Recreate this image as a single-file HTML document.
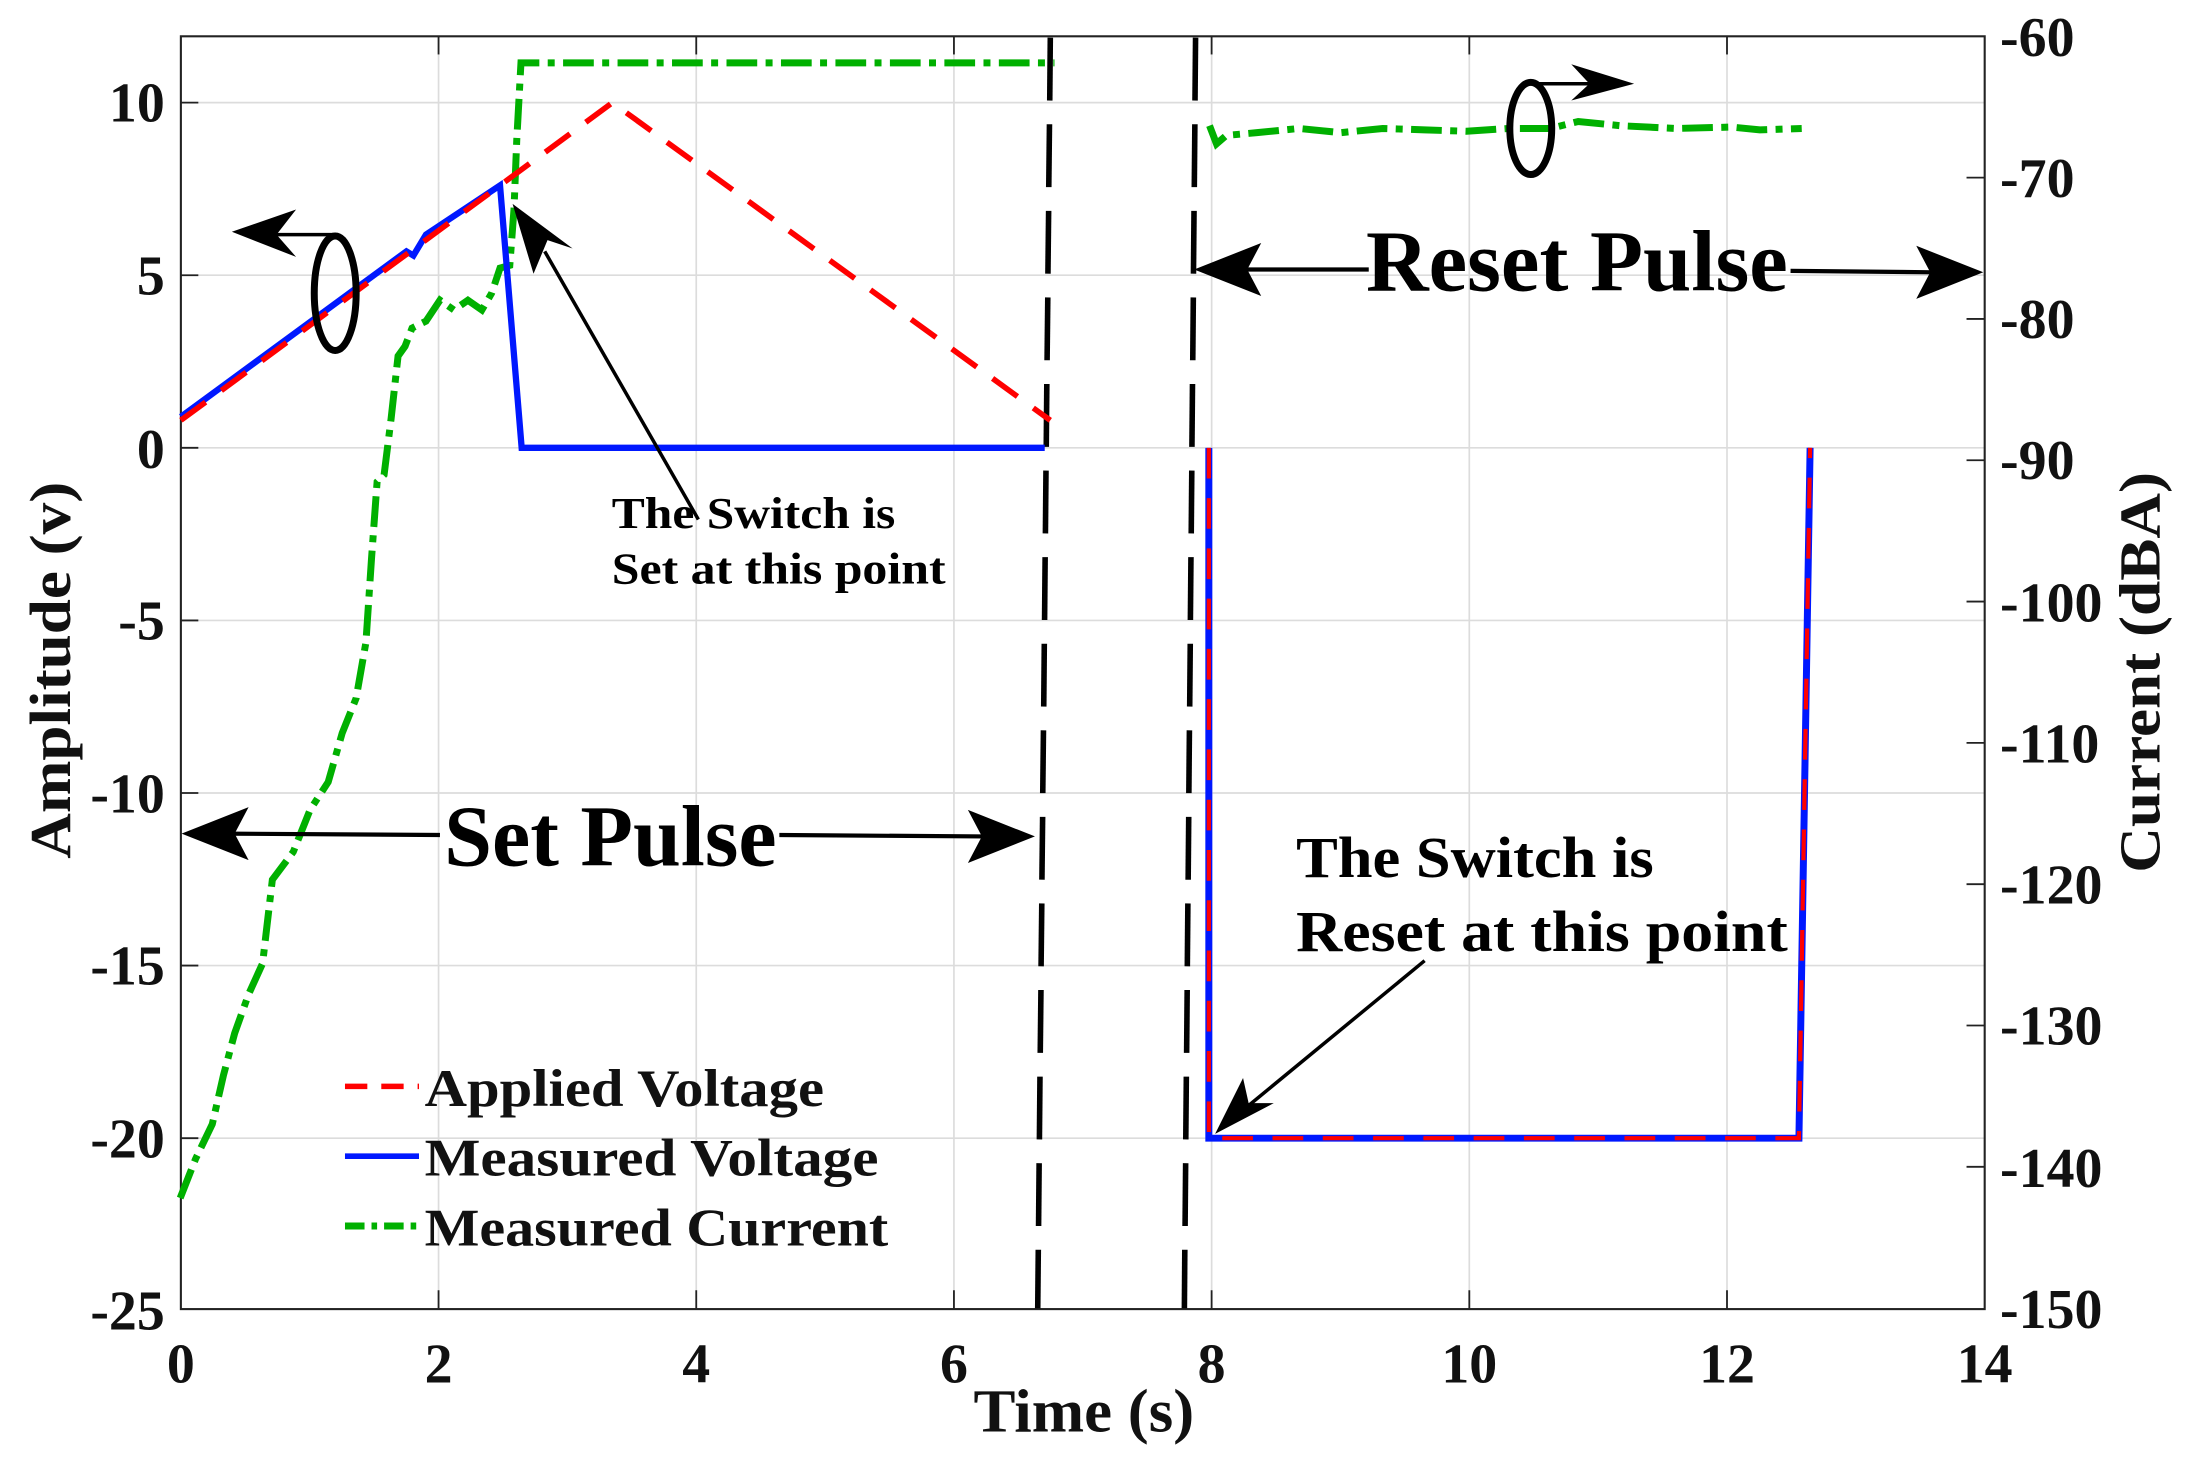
<!DOCTYPE html>
<html><head><meta charset="utf-8"><style>html,body{margin:0;padding:0;background:#fff}svg{display:block}</style></head><body>
<svg width="2190" height="1462" viewBox="0 0 1568 1047" preserveAspectRatio="none" xmlns="http://www.w3.org/2000/svg" font-family="'Liberation Serif', serif" font-weight="bold">
<rect width="1568" height="1047" fill="#fff"/>
<g stroke="#dcdcdc" stroke-width="1.2">
<line x1="314" y1="26" x2="314" y2="937"/><line x1="498.5" y1="26" x2="498.5" y2="937"/><line x1="683" y1="26" x2="683" y2="937"/><line x1="867.5" y1="26" x2="867.5" y2="937"/><line x1="1052" y1="26" x2="1052" y2="937"/><line x1="1236.5" y1="26" x2="1236.5" y2="937"/>
<line x1="129.5" y1="73.5" x2="1421" y2="73.5"/><line x1="129.5" y1="197.1" x2="1421" y2="197.1"/><line x1="129.5" y1="320.7" x2="1421" y2="320.7"/><line x1="129.5" y1="444.3" x2="1421" y2="444.3"/><line x1="129.5" y1="567.9" x2="1421" y2="567.9"/><line x1="129.5" y1="691.5" x2="1421" y2="691.5"/><line x1="129.5" y1="815.1" x2="1421" y2="815.1"/>
</g>
<rect x="129.5" y="26" width="1291.5" height="911.5" fill="none" stroke="#222" stroke-width="1.5"/>
<g stroke="#222" stroke-width="1.3">
<line x1="314" y1="937" x2="314" y2="924"/><line x1="498.5" y1="937" x2="498.5" y2="924"/><line x1="683" y1="937" x2="683" y2="924"/><line x1="867.5" y1="937" x2="867.5" y2="924"/><line x1="1052" y1="937" x2="1052" y2="924"/><line x1="1236.5" y1="937" x2="1236.5" y2="924"/>
<line x1="314" y1="26" x2="314" y2="39"/><line x1="498.5" y1="26" x2="498.5" y2="39"/><line x1="683" y1="26" x2="683" y2="39"/><line x1="867.5" y1="26" x2="867.5" y2="39"/><line x1="1052" y1="26" x2="1052" y2="39"/><line x1="1236.5" y1="26" x2="1236.5" y2="39"/>
<line x1="129.5" y1="73.5" x2="142" y2="73.5"/><line x1="129.5" y1="197.1" x2="142" y2="197.1"/><line x1="129.5" y1="320.7" x2="142" y2="320.7"/><line x1="129.5" y1="444.3" x2="142" y2="444.3"/><line x1="129.5" y1="567.9" x2="142" y2="567.9"/><line x1="129.5" y1="691.5" x2="142" y2="691.5"/><line x1="129.5" y1="815.1" x2="142" y2="815.1"/>
<line x1="1421" y1="127.2" x2="1408" y2="127.2"/><line x1="1421" y1="228.4" x2="1408" y2="228.4"/><line x1="1421" y1="329.6" x2="1408" y2="329.6"/><line x1="1421" y1="430.8" x2="1408" y2="430.8"/><line x1="1421" y1="532" x2="1408" y2="532"/><line x1="1421" y1="633.2" x2="1408" y2="633.2"/><line x1="1421" y1="734.4" x2="1408" y2="734.4"/><line x1="1421" y1="835.6" x2="1408" y2="835.6"/>
</g>
<g font-size="40" fill="#111" text-anchor="end">
<text x="118" y="87">10</text><text x="118" y="211">5</text><text x="118" y="335">0</text><text x="118" y="458">-5</text><text x="118" y="582">-10</text><text x="118" y="705">-15</text><text x="118" y="829">-20</text><text x="118" y="952">-25</text>
</g>
<g font-size="40" fill="#111" text-anchor="start">
<text x="1432" y="40">-60</text><text x="1432" y="141">-70</text><text x="1432" y="242">-80</text><text x="1432" y="343">-90</text><text x="1432" y="445">-100</text><text x="1432" y="546">-110</text><text x="1432" y="647">-120</text><text x="1432" y="748">-130</text><text x="1432" y="850">-140</text><text x="1432" y="951">-150</text>
</g>
<g font-size="40" fill="#111" text-anchor="middle">
<text x="129.5" y="990">0</text><text x="314" y="990">2</text><text x="498.5" y="990">4</text><text x="683" y="990">6</text><text x="867.5" y="990">8</text><text x="1052" y="990">10</text><text x="1236.5" y="990">12</text><text x="1421" y="990">14</text>
</g>
<text x="697" y="1025" font-size="44" fill="#111" textLength="158" lengthAdjust="spacingAndGlyphs">Time (s)</text>
<text transform="translate(50,615) rotate(-90)" font-size="42" fill="#111" textLength="270" lengthAdjust="spacingAndGlyphs">Amplitude (v)</text>
<text transform="translate(1546,625) rotate(-90)" font-size="42" fill="#111" textLength="287" lengthAdjust="spacingAndGlyphs">Current (dBA)</text>
<g stroke="#000" stroke-width="4">
<line x1="752" y1="27" x2="751.6" y2="72"/><line x1="751.4" y1="89" x2="750.9" y2="134"/><line x1="750.8" y1="151" x2="750.3" y2="196"/><line x1="750.2" y1="213" x2="749.7" y2="258"/><line x1="749.5" y1="275" x2="749.1" y2="320"/><line x1="748.9" y1="337" x2="748.5" y2="382"/><line x1="748.3" y1="399" x2="747.9" y2="444"/><line x1="747.7" y1="461" x2="747.3" y2="506"/><line x1="747.1" y1="523" x2="746.6" y2="568"/><line x1="746.5" y1="585" x2="746" y2="630"/><line x1="745.9" y1="647" x2="745.4" y2="692"/><line x1="745.3" y1="709" x2="744.8" y2="754"/><line x1="744.6" y1="771" x2="744.2" y2="816"/><line x1="744" y1="833" x2="743.6" y2="878"/><line x1="743.4" y1="895" x2="743" y2="937"/>
<line x1="856" y1="27" x2="855.6" y2="72"/><line x1="855.5" y1="89" x2="855.1" y2="134"/><line x1="854.9" y1="151" x2="854.5" y2="196"/><line x1="854.4" y1="213" x2="854" y2="258"/><line x1="853.8" y1="275" x2="853.4" y2="320"/><line x1="853.3" y1="337" x2="852.9" y2="382"/><line x1="852.7" y1="399" x2="852.3" y2="444"/><line x1="852.2" y1="461" x2="851.8" y2="506"/><line x1="851.6" y1="523" x2="851.2" y2="568"/><line x1="851.1" y1="585" x2="850.7" y2="630"/><line x1="850.5" y1="647" x2="850.1" y2="692"/><line x1="850" y1="709" x2="849.6" y2="754"/><line x1="849.4" y1="771" x2="849" y2="816"/><line x1="848.9" y1="833" x2="848.5" y2="878"/><line x1="848.3" y1="895" x2="848" y2="937"/>
</g>
<polyline fill="none" stroke="#00b000" stroke-width="5" stroke-dasharray="22,6,5,6" points="129,858 140,830 152,805 160,770 168,740 178,712 188,690 195,630 210,610 222,580 235,560 245,525 255,500 262,460 266,400 270,345 275,340 280,300 285,255 290,248 295,235 305,230 315,215 325,222 335,215 345,222 352,210 358,192 365,190 368,150 370,100 373,45 755,45"/>
<polyline fill="none" stroke="#00b000" stroke-width="5" stroke-dasharray="22,6,5,6" points="866,90 871,103 878,97 900,95 930,92 960,95 990,92 1020,93 1050,94 1080,92 1110,92 1130,87 1160,90 1200,92 1240,91 1260,93 1290,92"/>
<polyline fill="none" stroke="#0018ff" stroke-width="4.5" points="129.5,298.5 291,180 296,183 305,168 358,132.8 373.5,320.7 748,320.7"/>
<polyline fill="none" stroke="#0018ff" stroke-width="5" points="865.5,320.7 865.5,815.1 1288,815.1 1296,320.7"/>
<polyline fill="none" stroke="#ff0000" stroke-width="4" stroke-dasharray="22,14" points="129.5,301 438.5,73.5 752,301"/>
<polyline fill="none" stroke="#ff0000" stroke-width="3" stroke-dasharray="22,14" points="865.5,320.7 865.5,815.1 1288,815.1 1296,320.7"/>
<g fill="none" stroke="#000" stroke-width="5"><ellipse cx="240" cy="210" rx="15" ry="41"/><ellipse cx="1096" cy="92" rx="15" ry="33"/></g>
<g stroke="#000" stroke-width="2.5"><line x1="240" y1="168" x2="190" y2="168"/><line x1="1096" y1="60" x2="1140" y2="60"/><line x1="500" y1="372" x2="390" y2="180"/><line x1="1020" y1="688" x2="890" y2="795"/></g>
<polygon points="166,166 212,150 198,168 212,184" fill="#000"/>
<polygon points="1170,60 1125,46 1138,60 1125,72" fill="#000"/>
<polygon points="367,146 410,178 392,172 382,196" fill="#000"/>
<polygon points="870,812 890,772 894,790 912,790" fill="#000"/>
<g stroke="#000" stroke-width="3"><line x1="160" y1="597" x2="315" y2="598"/><line x1="558" y1="598" x2="705" y2="599"/><line x1="890" y1="193" x2="980" y2="193"/><line x1="1282" y1="194" x2="1385" y2="195"/></g>
<polygon points="130,597 178,578 168,597 178,616" fill="#000"/>
<polygon points="741,599 693,580 703,599 693,618" fill="#000"/>
<polygon points="855,193 903,174 893,193 903,212" fill="#000"/>
<polygon points="1420,195 1372,176 1382,195 1372,214" fill="#000"/>
<text x="318" y="620" font-size="62" fill="#000" textLength="238" lengthAdjust="spacingAndGlyphs">Set Pulse</text>
<text x="978" y="208" font-size="62" fill="#000" textLength="302" lengthAdjust="spacingAndGlyphs">Reset Pulse</text>
<g font-size="32" fill="#000">
<text x="438" y="378" textLength="203" lengthAdjust="spacingAndGlyphs">The Switch is</text>
<text x="438" y="418" textLength="239" lengthAdjust="spacingAndGlyphs">Set at this point</text>
</g>
<g font-size="42" fill="#000">
<text x="928" y="628" textLength="256" lengthAdjust="spacingAndGlyphs">The Switch is</text>
<text x="928" y="681" textLength="352" lengthAdjust="spacingAndGlyphs">Reset at this point</text>
</g>
<line x1="247" y1="778" x2="300" y2="778" stroke="#ff0000" stroke-width="4" stroke-dasharray="16,10"/>
<line x1="247" y1="828" x2="300" y2="828" stroke="#0018ff" stroke-width="4"/>
<line x1="247" y1="878" x2="300" y2="878" stroke="#00b000" stroke-width="5" stroke-dasharray="14,5,4,5"/>
<g font-size="38" fill="#111">
<text x="304" y="792" textLength="286" lengthAdjust="spacingAndGlyphs">Applied Voltage</text>
<text x="304" y="842" textLength="325" lengthAdjust="spacingAndGlyphs">Measured Voltage</text>
<text x="304" y="892" textLength="332" lengthAdjust="spacingAndGlyphs">Measured Current</text>
</g>
</svg>
</body></html>
